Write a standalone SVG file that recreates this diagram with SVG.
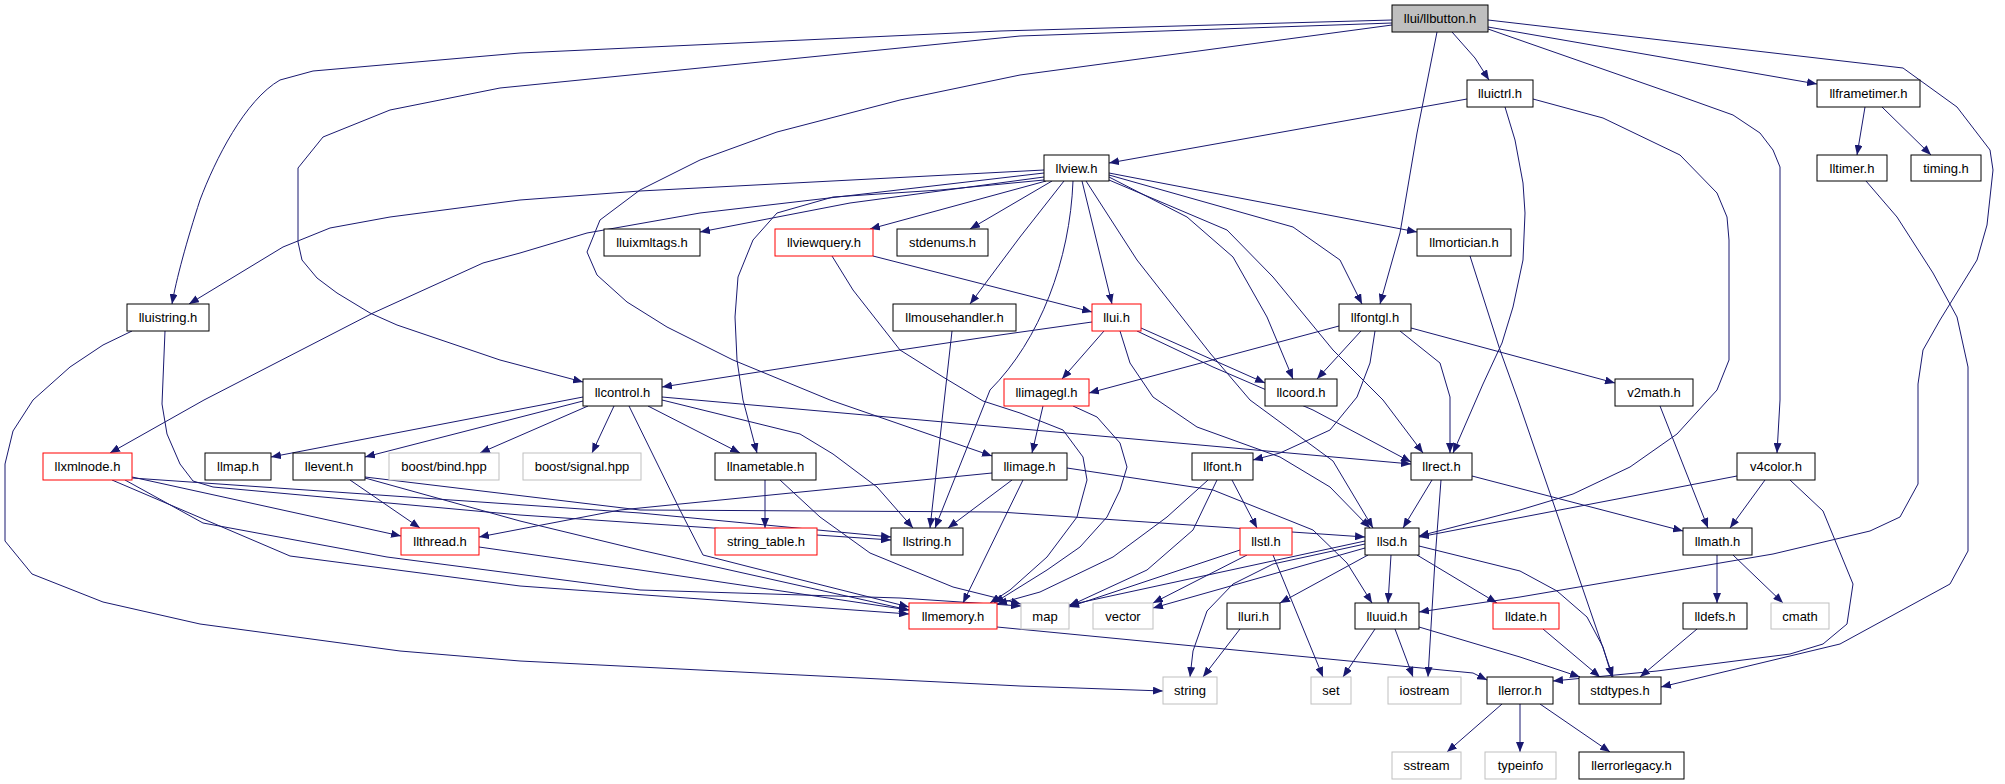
<svg xmlns="http://www.w3.org/2000/svg" width="2005" height="784" viewBox="0 0 2005 784">
<style>
.e{fill:none;stroke:#191970;stroke-width:1;stroke-linejoin:round;marker-end:url(#ah)}
.n rect{fill:#fff;stroke:#000;stroke-width:1}
.n.r rect{stroke:#ff0000}
.n.g rect{stroke:#bfbfbf}
.n.root rect{fill:#bfbfbf}
.n text{font-family:"Liberation Sans",Arial,sans-serif;font-size:13px;text-anchor:middle;fill:#000}
</style>
<defs>
<marker id="ah" viewBox="0 0 10 8" refX="10" refY="4" markerWidth="10" markerHeight="8" markerUnits="userSpaceOnUse" orient="auto">
<path d="M0,0 L10,4 L0,8 z" fill="#191970"/>
</marker>
</defs>
<rect width="2005" height="784" fill="#fff"/>
<g id="edges">
<path class="e" d="M1392,20 L1000,31 L520,53 L313,71 L280,80 C245,100 215,160 200,200 C187,240 176,280 172,304"/>
<path class="e" d="M1392,23 L1020,36 L500,88 L390,110 L323,137 L298,168 L298,242 L302,260 L317,278 L337,293 L370,313 L397,325 L450,343 L500,360 L583,382"/>
<path class="e" d="M1392,25 L1020,75 L900,100 L777,132 L700,160 L640,190 L600,220 L587,252 L597,275 L627,302 L667,327 L733,360 L830,400 L992,456"/>
<path class="e" d="M1452,32 L1475,58 L1489,80"/>
<path class="e" d="M1437,32 L1417,133 L1400,233 L1380,304"/>
<path class="e" d="M1488,27 L1817,84"/>
<path class="e" d="M1488,29 L1677,95 L1733,115 L1760,133 L1773,150 L1780,167 L1780,400 L1777,453"/>
<path class="e" d="M1488,20 L1903,68 L1957,107 L1990,150 L1993,170 L1987,225 L1977,260 L1940,320 L1923,350 L1918,384 L1918,484 L1900,517 L1870,531 L1773,554 L1520,597 L1419,612"/>
<path class="e" d="M1467,99 L1109,163"/>
<path class="e" d="M1505,107 L1515,140 L1523,183 L1525,213 L1523,260 L1513,307 L1502,343 L1483,384 L1453,453"/>
<path class="e" d="M1533,99 L1603,118 L1680,155 L1717,193 L1727,217 L1729,240 L1729,360 L1717,390 L1677,434 L1630,467 L1573,494 L1520,510 L1419,536"/>
<path class="e" d="M1865,107 L1857,155"/>
<path class="e" d="M1882,107 L1931,155"/>
<path class="e" d="M1866,181 L1897,217 L1933,273 L1957,317 L1968,367 L1968,551 L1950,584 L1840,644 L1661,687"/>
<path class="e" d="M1044,170 L640,191 L520,200 L390,217 L330,228 L283,247 L189,304"/>
<path class="e" d="M1044,173 L700,213 L587,233 L520,253 L483,263 L373,313 L204,400 L110,453"/>
<path class="e" d="M1044,177 L850,203 L700,232"/>
<path class="e" d="M1046,181 L870,229"/>
<path class="e" d="M1052,181 L970,229"/>
<path class="e" d="M1064,181 L1020,237 L970,304"/>
<path class="e" d="M1044,180 L940,190 L833,197 L777,213 L753,240 L738,277 L735,317 L737,360 L743,400 L757,453"/>
<path class="e" d="M1073,181 C1070,260 1040,340 990,390 L935,528"/>
<path class="e" d="M1082,181 L1112,304"/>
<path class="e" d="M1086,181 L1137,260 L1210,353 L1250,400 L1333,461 L1373,528"/>
<path class="e" d="M1109,177 L1187,217 L1233,257 L1267,317 L1293,379"/>
<path class="e" d="M1109,180 L1227,230 L1273,277 L1333,350 L1383,400 L1423,453"/>
<path class="e" d="M1109,175 L1293,227 L1340,260 L1362,304"/>
<path class="e" d="M1109,173 L1417,232"/>
<path class="e" d="M873,256 L1092,312"/>
<path class="e" d="M832,256 L853,290 L900,350 L943,377 L983,401 L1020,413 L1063,430 L1083,457 L1087,480 L1077,517 L1047,557 L1010,590 L990,603"/>
<path class="e" d="M952,331 L930,528"/>
<path class="e" d="M1470,256 L1500,350 L1518,400 L1613,677"/>
<path class="e" d="M165,331 L162,404 L167,434 L180,464 L193,481 L213,487 L520,515 L891,540"/>
<path class="e" d="M132,331 L103,345 L70,367 L33,400 L13,431 L5,464 L5,541 L32,574 L103,602 L200,624 L400,651 L520,661 L1020,686 L1163,691"/>
<path class="e" d="M1092,322 L1000,335 L900,350 L662,387"/>
<path class="e" d="M1104,331 L1062,379"/>
<path class="e" d="M1141,328 L1265,383"/>
<path class="e" d="M1137,331 L1213,367 L1313,410 L1411,462"/>
<path class="e" d="M1120,331 L1130,363 L1153,397 L1197,427 L1280,457 L1330,487 L1370,528"/>
<path class="e" d="M1339,326 L1089,393"/>
<path class="e" d="M1361,331 L1317,379"/>
<path class="e" d="M1375,331 L1370,363 L1357,397 L1330,430 L1280,453 L1253,460"/>
<path class="e" d="M1400,331 L1440,363 L1450,397 L1450,453"/>
<path class="e" d="M1411,328 L1615,383"/>
<path class="e" d="M614,406 L592,453"/>
<path class="e" d="M648,406 L740,453"/>
<path class="e" d="M583,397 L271,457"/>
<path class="e" d="M583,401 L365,457"/>
<path class="e" d="M588,406 L480,453"/>
<path class="e" d="M662,397 L1000,427 L1411,464"/>
<path class="e" d="M662,400 L800,434 L833,454 L877,487 L913,528"/>
<path class="e" d="M629,406 L680,510 L703,555 L750,567 L909,607"/>
<path class="e" d="M1043,406 L1032,453"/>
<path class="e" d="M1073,406 L1097,417 L1120,443 L1127,467 L1120,490 L1107,517 L1080,547 L1047,570 L994,603"/>
<path class="e" d="M1660,406 L1708,528"/>
<path class="e" d="M132,477 L401,536"/>
<path class="e" d="M132,478 L640,513 L891,537"/>
<path class="e" d="M112,480 L290,556 L520,586 L909,614"/>
<path class="e" d="M125,480 L203,523 L387,557 L640,590 L900,598 L1021,606"/>
<path class="e" d="M350,480 L420,528"/>
<path class="e" d="M365,477 L640,510 L1000,512 L1365,537"/>
<path class="e" d="M365,478 L520,521 L640,550 L909,610"/>
<path class="e" d="M765,480 L765,528"/>
<path class="e" d="M780,480 L820,517 L870,553 L953,587 L1021,604"/>
<path class="e" d="M992,473 L620,510 L479,537"/>
<path class="e" d="M1012,480 L948,528"/>
<path class="e" d="M1023,480 L963,603"/>
<path class="e" d="M1067,468 L1213,490 L1313,530 L1347,563 L1372,603"/>
<path class="e" d="M1232,480 L1257,528"/>
<path class="e" d="M1208,480 L1167,517 L1113,557 L1040,592 L997,604"/>
<path class="e" d="M1217,480 L1193,530 L1147,570 L1069,606"/>
<path class="e" d="M1240,550 L1069,607"/>
<path class="e" d="M1247,555 L1153,603"/>
<path class="e" d="M1273,555 L1323,677"/>
<path class="e" d="M1365,541 L1069,605"/>
<path class="e" d="M1365,548 L1153,608"/>
<path class="e" d="M1365,544 L1273,564 L1233,584 L1207,611 L1193,651 L1190,677"/>
<path class="e" d="M1368,555 L1280,603"/>
<path class="e" d="M1391,555 L1388,603"/>
<path class="e" d="M1417,555 L1497,603"/>
<path class="e" d="M1419,546 L1520,571 L1557,591 L1587,617 L1603,647 L1612,677"/>
<path class="e" d="M1432,480 L1403,528"/>
<path class="e" d="M1441,480 L1435,560 L1428,677"/>
<path class="e" d="M1472,476 L1683,531"/>
<path class="e" d="M1737,476 L1419,537"/>
<path class="e" d="M1765,480 L1730,528"/>
<path class="e" d="M1790,480 L1823,511 L1853,584 L1847,624 L1823,644 L1790,654 L1657,671 L1553,681"/>
<path class="e" d="M1717,555 L1717,603"/>
<path class="e" d="M1733,555 L1783,603"/>
<path class="e" d="M1240,629 L1203,677"/>
<path class="e" d="M1375,629 L1343,677"/>
<path class="e" d="M1395,629 L1413,677"/>
<path class="e" d="M1419,627 L1520,657 L1580,677"/>
<path class="e" d="M1543,629 L1600,677"/>
<path class="e" d="M1697,629 L1640,677"/>
<path class="e" d="M997,627 L1473,673 L1487,680"/>
<path class="e" d="M1502,704 L1447,752"/>
<path class="e" d="M1520,704 L1520,752"/>
<path class="e" d="M1540,704 L1610,752"/>
<path class="e" d="M479,547 L640,570 L909,610"/>
</g>
<g id="n_llbutton" class="n root"><rect x="1392" y="5" width="96" height="27"/><text x="1440" y="23">llui/llbutton.h</text></g>
<g id="n_lluictrl" class="n"><rect x="1467" y="80" width="66" height="27"/><text x="1500" y="98">lluictrl.h</text></g>
<g id="n_llframetimer" class="n"><rect x="1817" y="80" width="103" height="27"/><text x="1868.5" y="98">llframetimer.h</text></g>
<g id="n_llview" class="n"><rect x="1044" y="155" width="65" height="26"/><text x="1076.5" y="173">llview.h</text></g>
<g id="n_lltimer" class="n"><rect x="1817" y="155" width="70" height="26"/><text x="1852" y="173">lltimer.h</text></g>
<g id="n_timing" class="n"><rect x="1911" y="155" width="70" height="26"/><text x="1946" y="173">timing.h</text></g>
<g id="n_lluixmltags" class="n"><rect x="604" y="229" width="96" height="27"/><text x="652" y="247">lluixmltags.h</text></g>
<g id="n_llviewquery" class="n r"><rect x="775" y="229" width="98" height="27"/><text x="824" y="247">llviewquery.h</text></g>
<g id="n_stdenums" class="n"><rect x="897" y="229" width="91" height="27"/><text x="942.5" y="247">stdenums.h</text></g>
<g id="n_llmortician" class="n"><rect x="1417" y="229" width="94" height="27"/><text x="1464" y="247">llmortician.h</text></g>
<g id="n_lluistring" class="n"><rect x="127" y="304" width="82" height="27"/><text x="168" y="322">lluistring.h</text></g>
<g id="n_llmousehandler" class="n"><rect x="893" y="304" width="123" height="27"/><text x="954.5" y="322">llmousehandler.h</text></g>
<g id="n_llui" class="n r"><rect x="1092" y="304" width="49" height="27"/><text x="1116.5" y="322">llui.h</text></g>
<g id="n_llfontgl" class="n"><rect x="1339" y="304" width="72" height="27"/><text x="1375" y="322">llfontgl.h</text></g>
<g id="n_llcontrol" class="n"><rect x="583" y="379" width="79" height="27"/><text x="622.5" y="397">llcontrol.h</text></g>
<g id="n_llimagegl" class="n r"><rect x="1004" y="379" width="85" height="27"/><text x="1046.5" y="397">llimagegl.h</text></g>
<g id="n_llcoord" class="n"><rect x="1265" y="379" width="72" height="27"/><text x="1301" y="397">llcoord.h</text></g>
<g id="n_v2math" class="n"><rect x="1615" y="379" width="78" height="27"/><text x="1654" y="397">v2math.h</text></g>
<g id="n_llxmlnode" class="n r"><rect x="43" y="453" width="89" height="27"/><text x="87.5" y="471">llxmlnode.h</text></g>
<g id="n_llmap" class="n"><rect x="205" y="453" width="66" height="27"/><text x="238" y="471">llmap.h</text></g>
<g id="n_llevent" class="n"><rect x="293" y="453" width="72" height="27"/><text x="329" y="471">llevent.h</text></g>
<g id="n_boost_bind" class="n g"><rect x="389" y="453" width="110" height="27"/><text x="444" y="471">boost/bind.hpp</text></g>
<g id="n_boost_signal" class="n g"><rect x="523" y="453" width="118" height="27"/><text x="582" y="471">boost/signal.hpp</text></g>
<g id="n_llnametable" class="n"><rect x="715" y="453" width="101" height="27"/><text x="765.5" y="471">llnametable.h</text></g>
<g id="n_llimage" class="n"><rect x="992" y="453" width="75" height="27"/><text x="1029.5" y="471">llimage.h</text></g>
<g id="n_llfont" class="n"><rect x="1192" y="453" width="61" height="27"/><text x="1222.5" y="471">llfont.h</text></g>
<g id="n_llrect" class="n"><rect x="1411" y="453" width="61" height="27"/><text x="1441.5" y="471">llrect.h</text></g>
<g id="n_v4color" class="n"><rect x="1737" y="453" width="78" height="27"/><text x="1776" y="471">v4color.h</text></g>
<g id="n_llthread" class="n r"><rect x="401" y="528" width="78" height="27"/><text x="440" y="546">llthread.h</text></g>
<g id="n_string_table" class="n r"><rect x="715" y="528" width="102" height="27"/><text x="766" y="546">string_table.h</text></g>
<g id="n_llstring" class="n"><rect x="891" y="528" width="72" height="27"/><text x="927" y="546">llstring.h</text></g>
<g id="n_llstl" class="n r"><rect x="1240" y="528" width="52" height="27"/><text x="1266" y="546">llstl.h</text></g>
<g id="n_llsd" class="n"><rect x="1365" y="528" width="54" height="27"/><text x="1392" y="546">llsd.h</text></g>
<g id="n_llmath" class="n"><rect x="1683" y="528" width="69" height="27"/><text x="1717.5" y="546">llmath.h</text></g>
<g id="n_llmemory" class="n r"><rect x="909" y="603" width="88" height="26"/><text x="953" y="621">llmemory.h</text></g>
<g id="n_map" class="n g"><rect x="1021" y="603" width="48" height="26"/><text x="1045" y="621">map</text></g>
<g id="n_vector" class="n g"><rect x="1093" y="603" width="60" height="26"/><text x="1123" y="621">vector</text></g>
<g id="n_lluri" class="n"><rect x="1227" y="603" width="53" height="26"/><text x="1253.5" y="621">lluri.h</text></g>
<g id="n_lluuid" class="n"><rect x="1355" y="603" width="64" height="26"/><text x="1387" y="621">lluuid.h</text></g>
<g id="n_lldate" class="n r"><rect x="1493" y="603" width="66" height="26"/><text x="1526" y="621">lldate.h</text></g>
<g id="n_lldefs" class="n"><rect x="1683" y="603" width="64" height="26"/><text x="1715" y="621">lldefs.h</text></g>
<g id="n_cmath" class="n g"><rect x="1771" y="603" width="58" height="26"/><text x="1800" y="621">cmath</text></g>
<g id="n_string" class="n g"><rect x="1163" y="677" width="54" height="27"/><text x="1190" y="695">string</text></g>
<g id="n_set" class="n g"><rect x="1311" y="677" width="40" height="27"/><text x="1331" y="695">set</text></g>
<g id="n_iostream" class="n g"><rect x="1388" y="677" width="73" height="27"/><text x="1424.5" y="695">iostream</text></g>
<g id="n_llerror" class="n"><rect x="1487" y="677" width="66" height="27"/><text x="1520" y="695">llerror.h</text></g>
<g id="n_stdtypes" class="n"><rect x="1579" y="677" width="82" height="27"/><text x="1620" y="695">stdtypes.h</text></g>
<g id="n_sstream" class="n g"><rect x="1392" y="752" width="69" height="27"/><text x="1426.5" y="770">sstream</text></g>
<g id="n_typeinfo" class="n g"><rect x="1485" y="752" width="71" height="27"/><text x="1520.5" y="770">typeinfo</text></g>
<g id="n_llerrorlegacy" class="n"><rect x="1579" y="752" width="105" height="27"/><text x="1631.5" y="770">llerrorlegacy.h</text></g>
</svg>
